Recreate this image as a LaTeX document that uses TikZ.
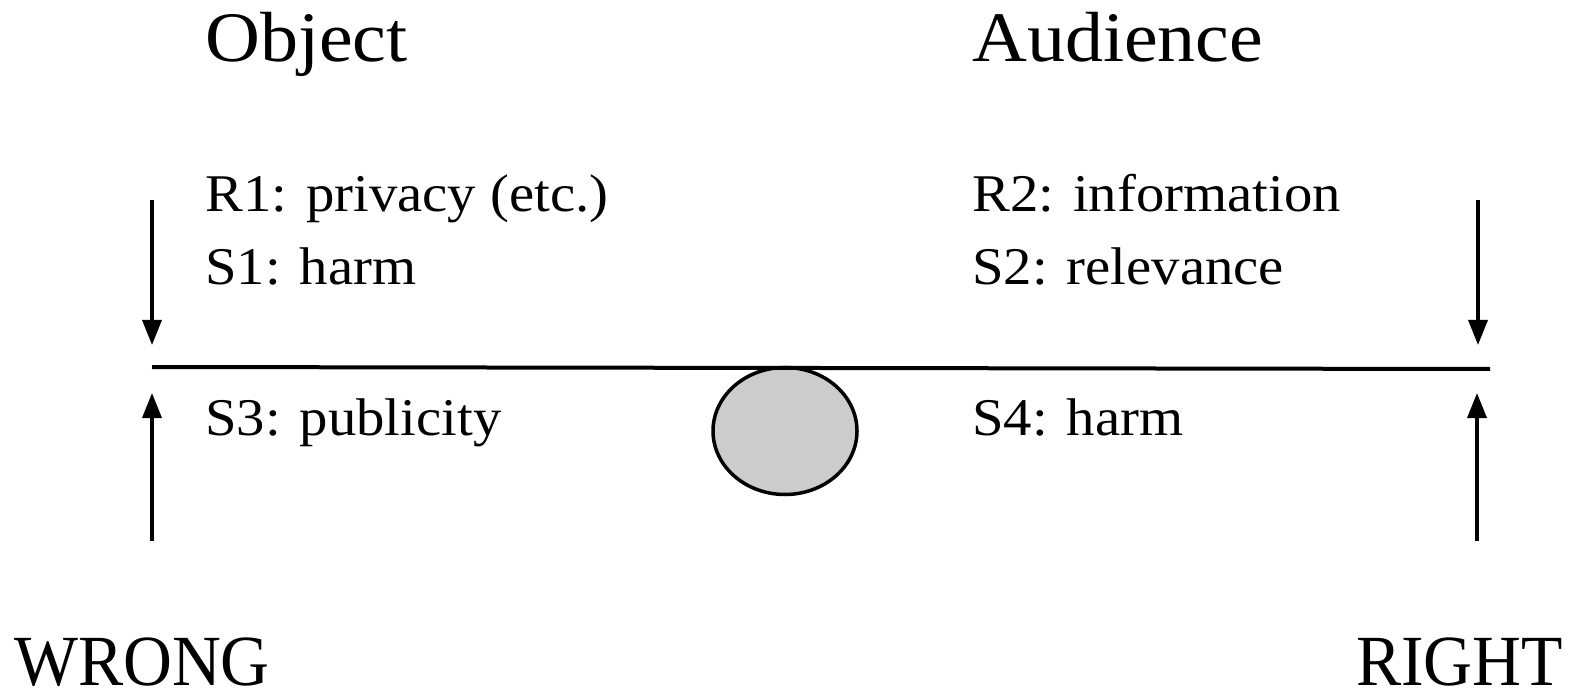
\documentclass[tikz,border=0pt]{standalone}
\usepackage{fontspec}
\setmainfont{Liberation Serif}
\newfontfamily\titlefont[FakeStretch=1.07]{Liberation Serif}
\newfontfamily\itemfont[FakeStretch=1.07]{Liberation Serif}
\newfontfamily\polefont[FakeStretch=0.94]{Liberation Serif}
\usetikzlibrary{shapes.geometric,arrows.meta}
\begin{document}
\begin{tikzpicture}[x=1pt,y=-1pt,
  title/.style={anchor=base west,inner sep=0pt,font=\titlefont\fontsize{71}{80}\selectfont},
  item/.style={anchor=base west,inner sep=0pt,font=\itemfont\fontsize{53}{60}\selectfont},
  pole/.style={anchor=base west,inner sep=0pt,font=\polefont\fontsize{72}{80}\selectfont},
  force/.style={line width=3.5pt,-{Triangle[length=25pt,width=19pt]}},
  beam/.style={line width=4pt},
  pivot/.style={ellipse,draw,line width=3.5pt,fill=black!20,minimum width=144pt,minimum height=127pt,inner sep=0pt}]
\useasboundingbox (0,0) rectangle (1571,692);
\node[title] (obj) at (205,62) {Object};
\node[title] (aud) at (972,62) {Audience};
\node[item] (r1) at (205,212) {R1: privacy (etc.)};
\node[item] (s1) at (205,285) {S1: harm};
\node[item] (r2) at (972,212) {R2: information};
\node[item] (s2) at (972,285) {S2: relevance};
\node[item] (s3) at (205,435) {S3: publicity};
\node[item] (s4) at (972,435) {S4: harm};
\node[pole] (wrong) at (14,685) {WRONG};
\node[pole] (right) at (1356,685) {RIGHT};
\node[pivot] (piv) at (785,431) {};
\coordinate (bl) at (152,367);
\coordinate (br) at (1490,369);
\draw[beam] (bl) -- (br);
\coordinate (ldt) at (152,200);
\coordinate (ldb) at (152,345);
\coordinate (rdt) at (1478,200);
\coordinate (rdb) at (1478,345);
\coordinate (lub) at (152,541);
\coordinate (lut) at (152,393);
\coordinate (rub) at (1477,541);
\coordinate (rut) at (1477,393);
\draw[force] (ldt) -- (ldb);
\draw[force] (rdt) -- (rdb);
\draw[force] (lub) -- (lut);
\draw[force] (rub) -- (rut);
\end{tikzpicture}
\end{document}
